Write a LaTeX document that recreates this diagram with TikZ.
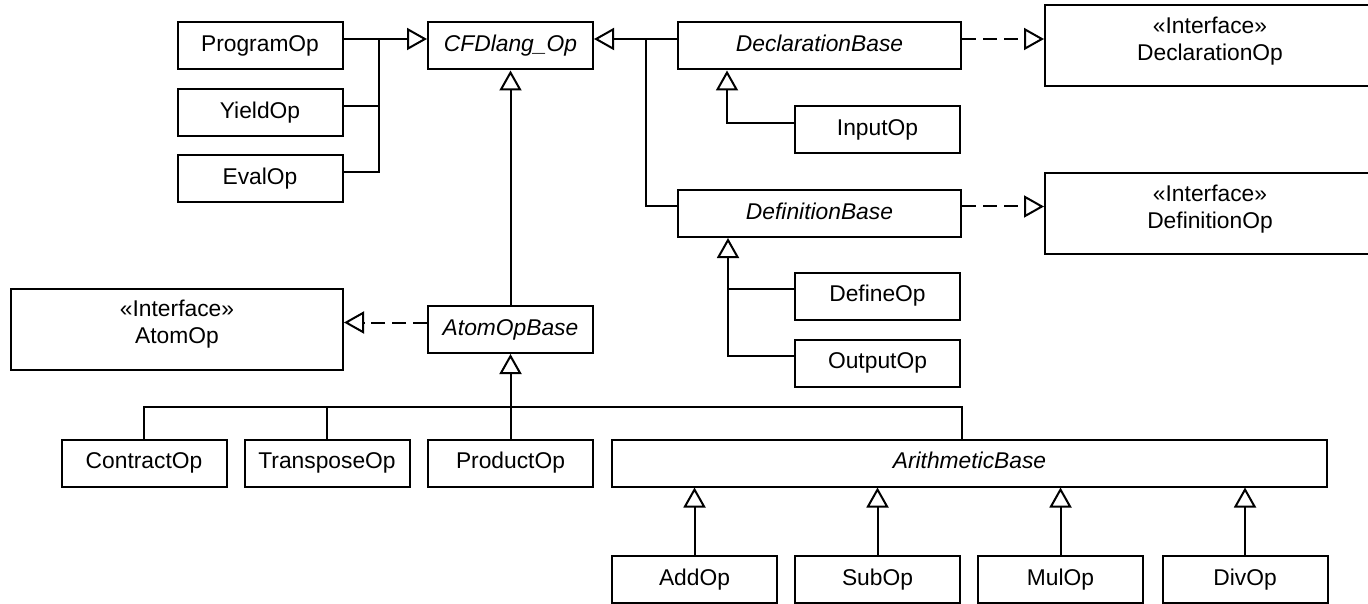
\documentclass[tikz,border=0pt]{standalone}
\usepackage{fontspec}
\setmainfont{Liberation Sans}
\usetikzlibrary{arrows.meta,calc}
\begin{document}
\begin{tikzpicture}[x=1pt,y=-1pt,
  txt/.style={font=\fontsize{22.8}{27}\selectfont},
  box/.style={draw, line width=2pt, inner sep=0pt, minimum width=165pt, minimum height=47pt, txt, text height=17pt, text depth=5.7pt},
  ital/.style={font=\fontsize{22.8}{27}\selectfont\itshape},
  ibox/.style={draw, line width=2pt, inner sep=0pt},
  itext/.style={align=center, inner sep=0pt, txt},
  gen/.style={line width=2pt, -{Triangle[open,length=20pt,width=22pt]}},
  real/.style={gen, dash pattern=on 14pt off 7pt},
  conn/.style={line width=2pt},
]
\useasboundingbox (0,0) rectangle (1368,604);

% nodes
\node[box] (prog) at (260,46) {ProgramOp};
\node[box] (yield) at (260,113) {YieldOp};
\node[box] (eval) at (260,179) {EvalOp};
\node[box, ital] (cfd) at (510.5,46) {CFDlang\_Op};
\node[box, ital, minimum width=283pt] (decl) at (819.5,46) {DeclarationBase};
\node[ibox, minimum width=330pt, minimum height=81pt] (declop) at (1210,46) {};
\node[itext] (declopt) at ($(declop.center)+(0,-4.5)$) {«Interface»\\DeclarationOp};
\node[box] (input) at (877.5,130) {InputOp};
\node[box, ital, minimum width=283pt] (defb) at (819.5,213.5) {DefinitionBase};
\node[ibox, minimum width=330pt, minimum height=80pt] (defop) at (1210,213.5) {};
\node[itext] (defopt) at ($(defop.center)+(0,-4.5)$) {«Interface»\\DefinitionOp};
\node[box] (defn) at (877.5,296) {DefineOp};
\node[box] (outp) at (877.5,363) {OutputOp};
\node[ibox, minimum width=332pt, minimum height=81pt] (atomop) at (177,329.5) {};
\node[itext] (atomopt) at ($(atomop.center)+(0,-5)$) {«Interface»\\AtomOp};
\node[box, ital] (atomb) at (510.5,329.5) {AtomOpBase};
\node[box] (contr) at (144,463) {ContractOp};
\node[box] (transp) at (327,463) {TransposeOp};
\node[box] (prod) at (510.5,463) {ProductOp};
\node[box, ital, minimum width=715pt] (arith) at (969.5,463) {ArithmeticBase};
\node[box] (add) at (694.5,579.5) {AddOp};
\node[box] (sub) at (877.5,579.5) {SubOp};
\node[box] (mul) at (1060.5,579.5) {MulOp};
\node[box] (div) at (1245,579.5) {DivOp};

% junction coordinates
\coordinate (j1) at (379,39);
\coordinate (j2) at (646,39);
\coordinate (j3) at (729,289);
\coordinate (bus) at (510.5,407);

% connectors
\draw[gen] ($(prog.east)+(0,-7)$) -- ($(cfd.west)+(0,-7)$);
\draw[conn] ($(yield.east)+(0,-7)$) -| (j1);
\draw[conn] ($(eval.east)+(0,-7)$) -| (j1);

\draw[gen] ($(decl.west)+(0,-7)$) -- ($(cfd.east)+(0,-7)$);
\draw[conn] ($(defb.west)+(0,-7)$) -| (j2);

\draw[real] ($(decl.east)+(0,-7)$) -- ($(declop.west)+(0,-7)$);
\draw[real] ($(defb.east)+(0,-7)$) -- ($(defop.west)+(0,-7)$);

\draw[gen] ($(input.west)+(0,-7)$) -| ($(decl.south west)+(50,0)$);
\draw[gen] ($(outp.west)+(0,-7)$) -| ($(defb.south west)+(51,0)$);
\draw[conn] ($(defn.west)+(0,-7)$) -- (j3);

\draw[gen] (atomb.north) -- (cfd.south);
\draw[real] ($(atomb.west)+(0,-7)$) -- ($(atomop.east)+(0,-7)$);

\draw[gen] (prod.north) -- (atomb.south);
\draw[conn] (contr.north) |- (bus);
\draw[conn] (transp.north) |- (bus);
\draw[conn] ($(arith.north west)+(351,0)$) |- (bus);

\draw[gen] (add.north) -- (add.north |- arith.south);
\draw[gen] (sub.north) -- (sub.north |- arith.south);
\draw[gen] (mul.north) -- (mul.north |- arith.south);
\draw[gen] (div.north) -- (div.north |- arith.south);
\end{tikzpicture}
\end{document}
